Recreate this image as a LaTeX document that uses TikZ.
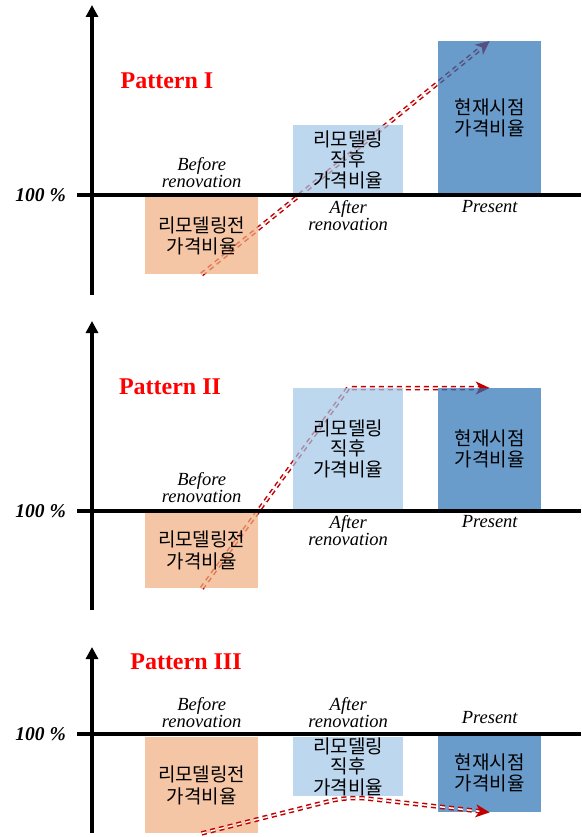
\documentclass[tikz,border=0pt]{standalone}
\usepackage{fontspec}
\setmainfont{Liberation Serif}
\newfontfamily\korfont{Noto Sans CJK KR}
\usepackage{tikz}
\usetikzlibrary{arrows.meta, positioning, backgrounds}

\definecolor{befcol}{RGB}{241,174,127}
\definecolor{aftcol}{RGB}{161,198,231}
\definecolor{precol}{RGB}{42,113,181}
\definecolor{flowred}{RGB}{192,0,0}

\begin{document}
\begin{tikzpicture}[
  x=1pt, y=-1pt,
  axis/.style  = {line width=3.5pt, -{Triangle[length=12pt, width=12pt]}},
  base/.style  = {line width=4pt},
  bar/.style   = {anchor=north west, inner sep=0pt, align=center, fill opacity=0.7, text opacity=1,
                  font=\korfont\fontsize{19}{21.5}\selectfont},
  bef/.style   = {bar, fill=befcol, minimum width=113pt},
  aft/.style   = {bar, fill=aftcol, minimum width=110pt, font=\korfont\fontsize{19}{20.5}\selectfont},
  pre/.style   = {bar, fill=precol, minimum width=103pt},
  lbl/.style   = {font=\itshape\fontsize{18.5}{17}\selectfont, align=center, inner sep=1pt},
  pct/.style   = {font=\bfseries\itshape\fontsize{19.5}{20}\selectfont, inner sep=0pt},
  ptitle/.style= {font=\bfseries\fontsize{24}{24}\selectfont, text=red},
  flow/.style  = {draw=flowred, line width=1.5pt, double=white, double distance=1.5pt,
                  dash pattern=on 5pt off 4pt, -{Stealth[length=14pt, width=13pt, inset=4pt]}},
]
  \useasboundingbox (0,0) rectangle (581,837);

%--- Pattern I (top) ---
  \node[ptitle] at (167,81) {Pattern I};

  \coordinate (ybot1) at (92,295);
  \coordinate (ytop1) at (92,5);
  \coordinate (hl1)   at (77,195);
  \coordinate (hr1)   at (581,195);

  \node[bef, minimum height=77pt]  (bef1) at (145,197) {리모델링전\\가격비율};
  \node[aft, minimum height=69pt]  (aft1) at (293,125) {리모델링\\직후\\가격비율};
  \node[pre, minimum height=153pt] (pre1) at (438,41)  {현재시점\\가격비율};

  \node[lbl, above=8pt of bef1] {Before\\renovation};
  \node[lbl, below=5pt of aft1] {After\\renovation};
  \node[lbl, below=5pt of pre1] {Present};

  \begin{scope}[on background layer]
    \draw[flow] (bef1.south) -- (pre1.north);
  \end{scope}

  \draw[axis] (ybot1) -- (ytop1);
  \draw[base] (hl1) -- (hr1);
  \node[pct, left=11pt of hl1] {100 \%};

%--- Pattern II (middle) ---
  \node[ptitle] at (170,387) {Pattern II};

  \coordinate (ybot2) at (92,610);
  \coordinate (ytop2) at (92,321);
  \coordinate (hl2)   at (77,511);
  \coordinate (hr2)   at (581,511);

  \node[bef, minimum height=76pt]  (bef2) at (145,512) {리모델링전\\가격비율};
  \node[aft, minimum height=121pt] (aft2) at (293,388) {리모델링\\직후\\가격비율};
  \node[pre, minimum height=121pt] (pre2) at (438,388) {현재시점\\가격비율};

  \node[lbl, above=8pt of bef2] {Before\\renovation};
  \node[lbl, below=5pt of aft2] {After\\renovation};
  \node[lbl, below=5pt of pre2] {Present};

  \begin{scope}[on background layer]
    \draw[flow] (bef2.south) -- (aft2.north) -- (pre2.north);
  \end{scope}

  \draw[axis] (ybot2) -- (ytop2);
  \draw[base] (hl2) -- (hr2);
  \node[pct, left=11pt of hl2] {100 \%};

%--- Pattern III (bottom) ---
  \node[ptitle] at (186,662) {Pattern III};

  \coordinate (ybot3) at (92,833);
  \coordinate (ytop3) at (92,647);
  \coordinate (hl3)   at (77,734);
  \coordinate (hr3)   at (581,734);

  \node[bef, minimum height=96pt] (bef3) at (145,737) {리모델링전\\가격비율};
  \node[aft, minimum height=59pt] (aft3) at (293,737) {리모델링\\직후\\가격비율};
  \node[pre, minimum height=79pt] (pre3) at (438,733) {현재시점\\가격비율};

  \node[lbl, above=8pt of bef3] {Before\\renovation};
  \node[lbl, above=8pt of aft3] {After\\renovation};
  \node[lbl, above=8pt of pre3] {Present};

  \draw[flow, rounded corners=18pt] (bef3.south) -- (aft3.south) -- (pre3.south);

  \draw[axis] (ybot3) -- (ytop3);
  \draw[base] (hl3) -- (hr3);
  \node[pct, left=11pt of hl3] {100 \%};
\end{tikzpicture}
\end{document}
